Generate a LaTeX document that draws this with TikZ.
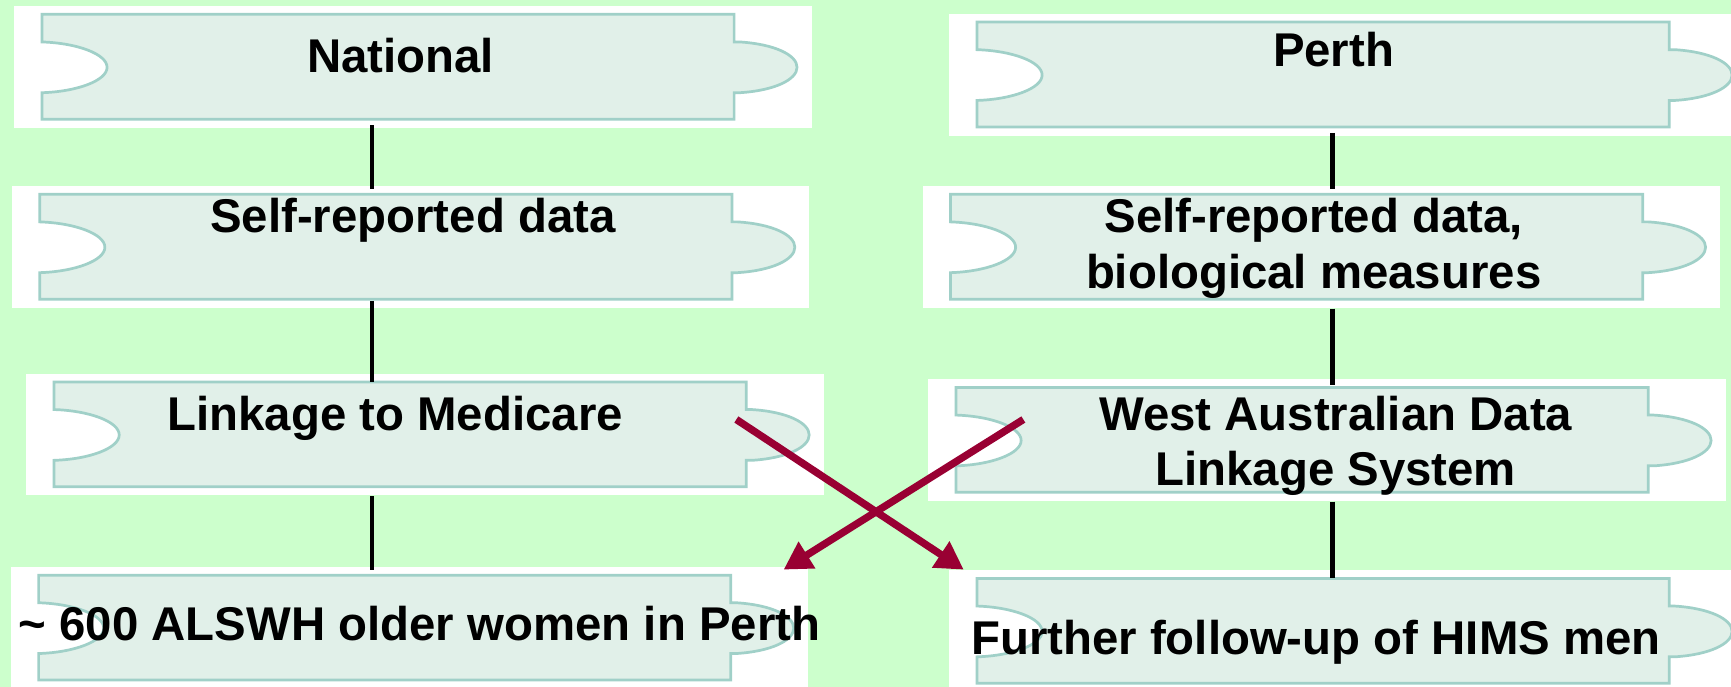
\documentclass[tikz,border=0pt]{standalone}
\usepackage{fontspec}
\setmainfont{Liberation Sans}
\usetikzlibrary{arrows.meta, calc}

\definecolor{meadow}{RGB}{204,255,204}
\definecolor{piecefill}{RGB}{225,240,233}
\definecolor{pieceline}{RGB}{160,208,200}
\definecolor{wine}{RGB}{153,0,51}

\begin{document}
\begin{tikzpicture}[
  x=0.01cm, y=0.01cm,
  tile/.style={fill=white, inner sep=0, anchor=north west,
    minimum width=7.22cm, minimum height=1.1cm},
  piece/.pic={
    \filldraw[fill=piecefill, draw=pieceline, line width=0.7pt]
      (26,-8) -- (653,-8) -- (653,-33) -- (658,-33)
      .. controls (690,-35) and (710,-45) .. (710,-56)
      .. controls (710,-67) and (690,-77) .. (658,-79)
      -- (653,-79) -- (653,-103) -- (26,-103) -- (26,-79)
      .. controls (58,-78) and (85,-68) .. (85,-56)
      .. controls (85,-44) and (58,-34) .. (26,-33) -- cycle;
  },
  lbl/.style={font=\fontsize{12.2}{14.2}\selectfont\bfseries, inner sep=0, align=center},
  link/.style={draw=black, line width=1.2pt},
  cross/.style={-{Triangle[length=2.5mm, width=2.7mm]}, draw=wine, line width=1.9pt}
]

\useasboundingbox (0,0) rectangle (1568,-622);
\fill[meadow] (0,0) rectangle (1568,-622);

% National column
\node[tile] (nat) at (12,-5) {};
\node[tile] (nself) at (10,-168) {};
\node[tile] (nlink) at (23,-338) {};
\node[tile] (nwomen) at (9,-513) {};
\pic at (nat.north west) {piece};
\pic at (nself.north west) {piece};
\pic at (nlink.north west) {piece};
\pic at (nwomen.north west) {piece};

% Perth column
\node[tile] (perth) at (859,-12) {};
\node[tile] (pself) at (835,-168) {};
\node[tile] (wadls) at (840,-343) {};
\node[tile] (pmen) at (859,-516) {};
\pic at (perth.north west) {piece};
\pic at (pself.north west) {piece};
\pic at (wadls.north west) {piece};
\pic at (pmen.north west) {piece};

% Texts
\node[lbl, anchor=base] (tnat) at (363,-66) {National};
\node[lbl, anchor=base] (tnself) at (374,-211) {Self-reported data};
\node[lbl, anchor=base] (tnlink) at (358,-390) {Linkage to Medicare};
\node[lbl, anchor=base] (tnwomen) at (380,-580) {\textasciitilde{} 600 ALSWH older women in Perth};
\node[lbl, anchor=base] (tperth) at (1208,-60) {Perth};
\node[lbl] (tpself) at (1190,-225) {Self-reported data,\\biological measures};
\node[lbl] (twadls) at (1210,-404) {West Australian Data\\Linkage System};
\node[lbl, anchor=base] (tpmen) at (1192,-593) {Further follow-up of HIMS men};

% Links
\coordinate (colL) at (337,0);
\coordinate (colR) at (1207,0);
\draw[link] ($(nat.south -| colL)+(0,3)$) -- ($(nself.north -| colL)-(0,3)$);
\draw[link] ($(nself.south -| colL)+(0,7)$) -- ($(nlink.north -| colL)-(0,8)$);
\draw[link] (nlink.south -| colL) -- ($(nwomen.north -| colL)-(0,3)$);
\draw[link] ($(perth.south -| colR)+(0,3)$) -- ($(pself.north -| colR)-(0,3)$);
\draw[link] (pself.south -| colR) -- ($(wadls.north -| colR)-(0,6)$);
\draw[link] (wadls.south -| colR) -- ($(pmen.north -| colR)-(0,8)$);

% Crossing arrows
\coordinate (fromlink) at (667,-380);
\coordinate (fromwadls) at (927,-380);
\draw[cross] (fromlink) -- ([shift={(14,0)}]pmen.north west);
\draw[cross] (fromwadls) -- ([shift={(-23,-3)}]nwomen.north east);

\end{tikzpicture}
\end{document}
